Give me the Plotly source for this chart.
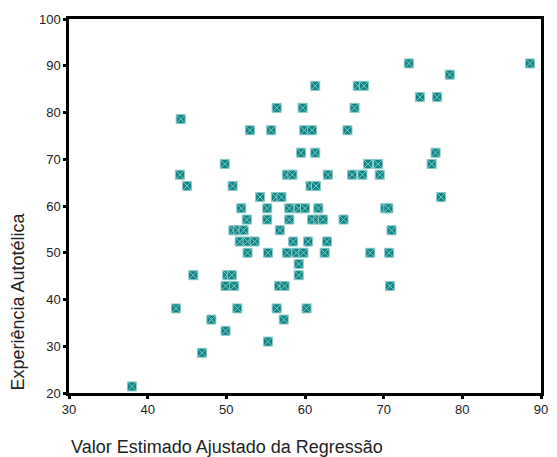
import plotly.graph_objects as go

x_vals = [38.0, 43.6, 44.2, 44.1, 45.0, 45.8, 46.9, 48.1, 49.9, 49.8,
          49.9, 50.1, 50.7, 50.8, 51.0, 51.4, 50.9, 51.5, 52.2, 51.9,
          51.7, 52.7, 53.6, 52.6, 52.7, 53.0, 54.3, 55.3, 55.3, 55.2,
          55.2, 55.7, 56.4, 56.3, 57.0, 56.8, 56.4, 56.7, 57.4, 57.3,
          57.7, 58.4, 58.0, 57.7, 58.0, 58.5, 58.9, 59.8, 59.2, 59.2,
          59.2, 60.0, 59.5, 59.7, 59.9, 60.9, 60.2, 60.4, 60.7, 61.4,
          61.3, 61.3, 61.7, 60.9, 61.7, 62.3, 62.5, 62.8, 62.9, 64.9,
          65.4, 66.3, 66.0, 67.3, 66.7, 67.5, 68.0, 69.3, 68.3, 69.5,
          70.7, 70.8, 71.0, 70.2, 70.6, 73.2, 74.6, 76.1, 76.6, 76.8,
          77.3, 78.4, 88.6]
y_vals = [21.4, 38.1, 78.6, 66.7, 64.3, 45.2, 28.6, 35.7, 33.3, 69.0,
          42.9, 45.2, 45.2, 64.3, 42.9, 38.1, 54.8, 54.8, 54.8, 59.5,
          52.4, 52.4, 52.4, 57.1, 50.0, 76.2, 61.9, 31.0, 50.0, 57.1,
          59.5, 76.2, 81.0, 61.9, 61.9, 54.8, 38.1, 42.9, 42.9, 35.7,
          66.7, 66.7, 57.1, 50.0, 59.5, 52.4, 50.0, 50.0, 47.6, 45.2,
          59.5, 59.5, 71.4, 81.0, 76.2, 76.2, 38.1, 52.4, 64.3, 64.3,
          71.4, 85.7, 59.5, 57.1, 57.1, 57.1, 50.0, 52.4, 66.7, 57.1,
          76.2, 81.0, 66.7, 66.7, 85.7, 85.7, 69.0, 69.0, 50.0, 66.7,
          50.0, 42.9, 54.8, 59.5, 59.5, 90.5, 83.3, 69.0, 71.4, 83.3,
          61.9, 88.1, 90.5]

x_ticks = [30, 40, 50, 60, 70, 80, 90]
y_ticks = [20, 30, 40, 50, 60, 70, 80, 90, 100]
x_title = "Valor Estimado Ajustado da Regressão"
y_title = "Experiência Autotélica"

FONT = "Liberation Sans, Arial, sans-serif"

fig = go.Figure(go.Scatter(
    x=x_vals, y=y_vals, mode="markers",
    marker=dict(symbol="square-x", size=9, color="#0b8585",
                line=dict(color="#8cc9c9", width=1)),
    showlegend=False,
))

axis_common = dict(showgrid=False, zeroline=False, showline=True, mirror=True,
                   linecolor="black", linewidth=2.5, ticks="outside",
                   ticklen=3, tickwidth=3, tickcolor="black",
                   tickfont=dict(family=FONT, size=13, color="#222"))

fig.update_layout(
    width=557, height=457,
    margin=dict(l=69, r=9, t=19, b=64),
    paper_bgcolor="white", plot_bgcolor="white",
    xaxis=dict(range=[30, 90], tickvals=x_ticks, **axis_common),
    yaxis=dict(range=[20, 100], tickvals=y_ticks, **axis_common),
    annotations=[
        dict(text=x_title, xref="paper", yref="paper", x=0.0, y=-0.144,
             xanchor="left", yanchor="middle", showarrow=False,
             font=dict(family=FONT, size=18, color="#222")),
        dict(text=y_title, xref="paper", yref="paper", x=-0.109, y=0.0,
             xanchor="center", yanchor="bottom", showarrow=False, textangle=-90,
             font=dict(family=FONT, size=18, color="#222")),
    ],
)

fig.write_html("out.html")
